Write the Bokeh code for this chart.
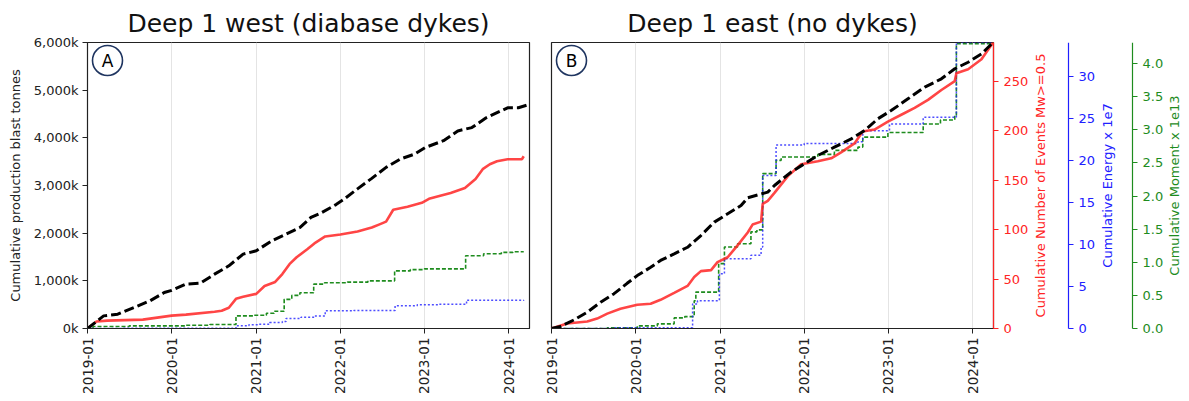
import math
from datetime import datetime
from bokeh.plotting import figure
from bokeh.models import (Range1d, LinearAxis, FixedTicker, CustomJSTickFormatter,
                          NumeralTickFormatter, BoxAnnotation, Label)
from bokeh.layouts import row
from bokeh.embed import file_html
from bokeh.resources import INLINE

# ---------------- data ----------------
year_ticks = ["2019-01", "2020-01", "2021-01", "2022-01", "2023-01", "2024-01"]
x_start, x_end = "2019-01-01", "2024-04-01"

tonnes_max_kt = 6000
events_max = 289
energy_max = 34.0
moment_max = 4.32
tonnes_ticks = [0, 1000, 2000, 3000, 4000, 5000, 6000]
events_ticks = [0, 50, 100, 150, 200, 250]
energy_ticks = [0, 5, 10, 15, 20, 25, 30]
moment_ticks = [0.0, 0.5, 1.0, 1.5, 2.0, 2.5, 3.0, 3.5, 4.0]

# Panel A: Deep 1 west
A_black_dates = ["2019-01-01", "2019-03-12", "2019-05-12", "2019-07-29", "2019-09-29", "2019-11-30",
                 "2020-01-01", "2020-03-03", "2020-05-04", "2020-07-05", "2020-09-05", "2020-11-06",
                 "2021-01-02", "2021-03-10", "2021-05-11", "2021-07-11", "2021-08-27", "2021-10-12",
                 "2021-12-14", "2022-01-14", "2022-03-17", "2022-05-18", "2022-07-19", "2022-09-19",
                 "2022-11-20", "2023-01-06", "2023-03-25", "2023-05-26", "2023-07-26", "2023-09-26",
                 "2023-11-27", "2023-12-28", "2024-02-13", "2024-03-30"]
A_black_kt = [0, 265, 300, 455, 580, 755,
              800, 930, 950, 1140, 1315, 1560,
              1630, 1840, 1980, 2120, 2330, 2430,
              2600, 2700, 2930, 3150, 3380, 3555,
              3660, 3800, 3940, 4145, 4215, 4420,
              4560, 4630, 4630, 4700]

A_red_dates = ["2019-01-01", "2019-02-09", "2019-03-27", "2019-08-29", "2020-01-01", "2020-03-03",
               "2020-07-05", "2020-08-05", "2020-09-05", "2020-10-06", "2020-11-06", "2021-01-02",
               "2021-02-07", "2021-03-25", "2021-04-25", "2021-05-26", "2021-06-26", "2021-08-11",
               "2021-09-11", "2021-10-28", "2022-01-02", "2022-03-17", "2022-05-18", "2022-06-18",
               "2022-07-19", "2022-08-19", "2022-10-20", "2022-12-21", "2023-01-21", "2023-04-25",
               "2023-06-26", "2023-08-11", "2023-09-11", "2023-10-12", "2023-11-12", "2023-12-28",
               "2024-02-28", "2024-03-07"]
A_red_events = [0, 7, 8, 9, 13, 14,
                17, 18, 21, 30, 32, 35,
                43, 47, 55, 65, 72, 80,
                86, 93, 95, 98, 102, 105,
                108, 120, 123, 127, 131, 137,
                142, 151, 161, 166, 169, 171,
                171, 174]

A_green_dates = ["2019-01-01", "2019-01-25", "2019-07-01", "2020-03-01", "2020-06-15", "2020-10-06",
                 "2020-12-20", "2021-02-15", "2021-03-20", "2021-05-03", "2021-06-05", "2021-07-10",
                 "2021-09-08", "2021-10-25", "2022-02-01", "2022-05-01", "2022-08-25", "2022-11-01",
                 "2023-01-01", "2023-06-29", "2023-09-15", "2023-12-01", "2024-01-20", "2024-03-07"]
A_green_moment = [0.0, 0.03, 0.04, 0.05, 0.06, 0.19,
                  0.20, 0.23, 0.26, 0.44, 0.50, 0.54,
                  0.67, 0.69, 0.70, 0.72, 0.87, 0.89,
                  0.90, 1.10, 1.13, 1.15, 1.16, 1.16]

A_blue_dates = ["2019-01-01", "2019-06-01", "2020-09-20", "2020-10-06", "2020-12-01", "2021-01-07",
                "2021-03-01", "2021-04-25", "2021-05-11", "2021-07-15", "2021-09-11", "2021-10-28",
                "2022-03-01", "2022-08-27", "2022-12-01", "2023-03-01", "2023-07-03", "2024-03-07"]
A_blue_energy = [0.0, 0.02, 0.04, 0.32, 0.45, 0.51,
                 0.70, 0.83, 1.19, 1.35, 1.50, 2.10,
                 2.15, 2.69, 2.81, 2.87, 3.37, 3.40]

# Panel B: Deep 1 east
B_black_dates = ["2019-01-01", "2019-02-09", "2019-04-08", "2019-06-05", "2019-08-02", "2019-09-28",
                 "2019-11-25", "2020-01-08", "2020-03-06", "2020-04-18", "2020-06-16", "2020-08-13",
                 "2020-10-10", "2020-12-07", "2021-02-03", "2021-04-02", "2021-05-01", "2021-07-27",
                 "2021-08-25", "2021-11-05", "2022-01-02", "2022-03-01", "2022-05-12", "2022-07-24",
                 "2022-09-20", "2022-11-16", "2023-01-13", "2023-03-27", "2023-06-08", "2023-08-19",
                 "2023-10-16", "2023-12-13", "2024-02-09", "2024-03-30"]
B_black_kt = [0, 42, 180, 342, 552, 726,
              948, 1110, 1284, 1428, 1566, 1704,
              1950, 2232, 2406, 2580, 2742, 2862,
              3000, 3282, 3456, 3630, 3804, 3978,
              4152, 4398, 4572, 4818, 5064, 5238,
              5448, 5586, 5760, 6000]

B_red_dates = ["2019-01-01", "2019-03-10", "2019-06-05", "2019-07-18", "2019-08-31", "2019-10-27",
               "2020-01-08", "2020-03-06", "2020-04-18", "2020-06-16", "2020-08-13", "2020-09-11",
               "2020-10-10", "2020-11-23", "2020-12-21", "2021-02-03", "2021-03-18", "2021-05-01",
               "2021-05-22", "2021-06-28", "2021-07-05", "2021-07-27", "2021-08-25", "2021-10-22",
               "2021-12-19", "2022-03-01", "2022-04-28", "2022-06-10", "2022-08-07", "2022-09-12",
               "2022-11-02", "2022-12-30", "2023-02-26", "2023-04-25", "2023-06-22", "2023-08-19",
               "2023-10-16", "2023-10-23", "2023-12-13", "2024-02-09", "2024-03-30"]
B_red_events = [0, 5, 7, 10, 15, 20,
                24, 25, 29, 36, 43, 52,
                58, 59, 67, 72, 84, 97,
                105, 108, 126, 129, 137, 154,
                166, 169, 172, 178, 187, 199,
                201, 209, 216, 223, 231, 241,
                250, 258, 262, 272, 289]

B_green_dates = ["2019-01-01", "2019-08-31", "2020-01-08", "2020-04-04", "2020-06-16", "2020-08-01",
                 "2020-09-11", "2020-09-18", "2020-12-26", "2021-01-20", "2021-03-18", "2021-05-15",
                 "2021-06-10", "2021-07-05", "2021-09-01", "2021-09-23", "2022-03-01", "2022-05-12",
                 "2022-08-22", "2022-09-12", "2022-12-30", "2023-06-01", "2023-08-15", "2023-10-16",
                 "2023-10-23", "2024-03-30"]
B_green_moment = [0.0, 0.01, 0.04, 0.07, 0.16, 0.18,
                  0.42, 0.55, 0.98, 1.23, 1.28, 1.46,
                  1.49, 2.34, 2.54, 2.59, 2.63, 2.69,
                  2.74, 2.89, 2.96, 3.09, 3.15, 3.22,
                  4.30, 4.32]

B_blue_dates = ["2019-01-01", "2019-10-01", "2020-09-04", "2020-09-25", "2020-12-29", "2021-01-20",
                "2021-05-15", "2021-06-28", "2021-07-05", "2021-09-01", "2022-01-01", "2022-08-22",
                "2022-09-12", "2023-01-06", "2023-06-01", "2023-10-23", "2024-03-30"]
B_blue_energy = [0.0, 0.1, 2.9, 3.3, 6.5, 8.3,
                 8.7, 9.7, 18.2, 21.8, 22.0, 22.2,
                 23.5, 24.3, 25.1, 34.0, 34.0]

events_label = "Cumulative Number of Events Mw>=0.5"
energy_label = "Cumulative Energy x 1e7"
moment_label = "Cumulative Moment x 1e13"

# ---------------- helpers / styles ----------------
FONT = "DejaVu Sans"
TXT = "#222222"
RED = "#ff2424"
BLUE = "#2020ff"
GREEN = "#1e8c1e"
NAVY = "#1f3560"
FRAME_W, FRAME_H = 442, 286
TOP, BOTTOM = 42, 73
B_RIGHT = 40          # room for the red axis of panel B
SIDE_W = 156         # strip holding the energy / moment axes and the axis titles
EXT = 14             # the strip's frame reaches this far below the panels' frames


def dt(s):
    return datetime.strptime(s, "%Y-%m-%d")


def ms(s):
    return (datetime.strptime(s + "-01", "%Y-%m-%d") - datetime(1970, 1, 1)).total_seconds() * 1000


tick_ms = [ms(t) for t in year_ticks]

x_range = Range1d(dt(x_start), dt(x_end))
y_tonnes = Range1d(0, tonnes_max_kt)
r_events = Range1d(0, events_max)
r_energy = Range1d(0, energy_max)
r_moment = Range1d(0, moment_max)


def style_x(p):
    ax = p.xaxis[0]
    ax.ticker = FixedTicker(ticks=tick_ms)
    ax.major_label_overrides = {t: lab for t, lab in zip(tick_ms, year_ticks)}
    ax.major_label_orientation = math.pi / 2
    ax.major_label_text_font = FONT
    ax.major_label_text_font_size = "13.5px"
    ax.major_label_text_color = TXT
    ax.major_tick_out = 5
    ax.major_tick_in = 0
    ax.minor_tick_line_color = None
    ax.axis_line_color = "#222222"
    ax.major_tick_line_color = "#222222"
    ax.major_label_standoff = 4
    p.xgrid.ticker = FixedTicker(ticks=tick_ms)
    p.xgrid.grid_line_color = "#e4e4e4"
    p.ygrid.grid_line_color = None


def make_fig(title, left_border, right_border, show_y):
    p = figure(frame_width=FRAME_W, frame_height=FRAME_H, x_axis_type="datetime",
               x_range=x_range, y_range=y_tonnes,
               y_axis_location=("left" if show_y else None),
               min_border_left=left_border, min_border_right=right_border,
               min_border_top=TOP, min_border_bottom=BOTTOM,
               output_backend="svg", toolbar_location=None,
               background_fill_color="white", border_fill_color="white")
    p.title.text = title
    p.title.align = "center"
    p.title.text_font = FONT
    p.title.text_font_size = "25px"
    p.title.text_font_style = "normal"
    p.title.text_color = "#111111"
    p.outline_line_color = "#222222"
    p.outline_line_width = 1.2
    p.extra_y_ranges = {"events": r_events, "energy": r_energy, "moment": r_moment}
    style_x(p)
    return p


def draw_series(p, black_d, black_v, red_d, red_v, green_d, green_v, blue_d, blue_v):
    p.step([dt(s) for s in green_d], green_v, mode="after", y_range_name="moment",
           line_color=GREEN, line_width=1.6, line_dash="4 2")
    p.step([dt(s) for s in blue_d], blue_v, mode="after", y_range_name="energy",
           line_color=BLUE, line_alpha=0.8, line_width=1.5, line_dash="2 2")
    p.line([dt(s) for s in red_d], red_v, y_range_name="events",
           line_color=RED, line_alpha=0.85, line_width=2.6)
    p.line([dt(s) for s in black_d], black_v,
           line_color="black", line_width=3, line_dash="10 4")


def add_badge(p, letter):
    p.add_layout(BoxAnnotation(left=5, right=35, bottom=FRAME_H - 33, top=FRAME_H - 3,
                               left_units="screen", right_units="screen",
                               bottom_units="screen", top_units="screen",
                               fill_color=None, fill_alpha=0, line_color=NAVY,
                               line_alpha=1.0, line_width=1.6, border_radius=15))
    p.add_layout(Label(x=20, y=FRAME_H - 18, x_units="screen", y_units="screen", text=letter,
                       text_align="center", text_baseline="middle",
                       text_font=FONT, text_font_size="17px", text_color="black"))


def style_right_axis(ax, color):
    ax.axis_line_color = color
    ax.axis_line_width = 1.2
    ax.major_tick_line_color = color
    ax.major_tick_out = 5
    ax.major_tick_in = 0
    ax.minor_tick_line_color = None
    ax.major_label_text_color = color
    ax.major_label_text_font = FONT
    ax.major_label_text_font_size = "13px"
    ax.major_label_standoff = 5
    return ax


# ---------------- panel A ----------------
pA = make_fig("Deep 1 west (diabase dykes)", 87, 11, True)
ya = pA.yaxis[0]
ya.ticker = FixedTicker(ticks=tonnes_ticks)
ya.formatter = CustomJSTickFormatter(code="return tick.toLocaleString('en-US') + 'k';")
ya.axis_label = "Cumulative production blast tonnes"
ya.axis_label_text_font = FONT
ya.axis_label_text_font_size = "13px"
ya.axis_label_text_font_style = "normal"
ya.axis_label_text_color = TXT
ya.axis_label_standoff = 8
ya.major_label_text_font = FONT
ya.major_label_text_font_size = "13px"
ya.major_label_text_color = TXT
ya.major_tick_out = 5
ya.major_tick_in = 0
ya.minor_tick_line_color = None
ya.axis_line_color = "#222222"
ya.major_tick_line_color = "#222222"
ya.major_label_standoff = 4
draw_series(pA, A_black_dates, A_black_kt, A_red_dates, A_red_events,
            A_green_dates, A_green_moment, A_blue_dates, A_blue_energy)
add_badge(pA, "A")

# ---------------- panel B ----------------
pB = make_fig("Deep 1 east (no dykes)", 11, B_RIGHT, False)
draw_series(pB, B_black_dates, B_black_kt, B_red_dates, B_red_events,
            B_green_dates, B_green_moment, B_blue_dates, B_blue_energy)
add_badge(pB, "B")
pB.add_layout(style_right_axis(LinearAxis(y_range_name="events",
                                          ticker=FixedTicker(ticks=events_ticks)), RED), "right")

# ---------------- side strip: energy / moment axes + axis titles ----------------
# its frame reaches EXT px lower than the panels, so its ranges start below 0 by the same amount
frac = EXT / FRAME_H
pC = figure(frame_width=SIDE_W, frame_height=FRAME_H + EXT, x_range=Range1d(0, SIDE_W),
            y_range=Range1d(-tonnes_max_kt * frac, tonnes_max_kt),
            x_axis_location=None, y_axis_location=None,
            min_border_left=0, min_border_right=0,
            min_border_top=TOP, min_border_bottom=BOTTOM - EXT,
            output_backend="svg", toolbar_location=None,
            background_fill_color="white", border_fill_color="white")
pC.outline_line_color = None
pC.grid.visible = False
pC.extra_y_ranges = {"energy": Range1d(-energy_max * frac, energy_max),
                     "moment": Range1d(-moment_max * frac, moment_max)}

strip_left = 540 + 11 + FRAME_W + B_RIGHT   # where the strip starts on the page
energy_axis = style_right_axis(LinearAxis(y_range_name="energy",
                                          ticker=FixedTicker(ticks=energy_ticks),
                                          bounds=(0, energy_max),
                                          fixed_location=1068 - strip_left), BLUE)
moment_axis = style_right_axis(LinearAxis(y_range_name="moment",
                                          ticker=FixedTicker(ticks=moment_ticks),
                                          formatter=NumeralTickFormatter(format="0.0"),
                                          bounds=(0, moment_max),
                                          fixed_location=1132 - strip_left), GREEN)
pC.add_layout(energy_axis, "right")
pC.add_layout(moment_axis, "right")


def side_label(text, page_x, color):
    pC.add_layout(Label(x=page_x - strip_left, y=EXT + FRAME_H / 2, x_units="screen",
                        y_units="screen", text=text, angle=math.pi / 2, text_align="center",
                        text_baseline="middle", text_font=FONT, text_font_size="13px",
                        text_color=color))


side_label(events_label, 1040, RED)
side_label(energy_label, 1107, BLUE)
side_label(moment_label, 1174, GREEN)

layout = row(pA, pB, pC)
open("out.html", "w").write(file_html(layout, INLINE))
